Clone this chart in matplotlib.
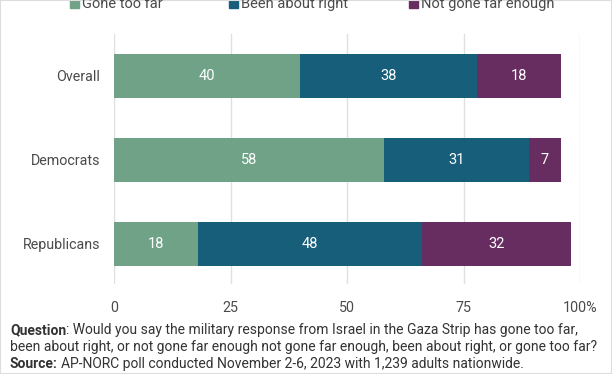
import matplotlib
matplotlib.use("Agg")
import matplotlib.pyplot as plt
from matplotlib.patches import Rectangle

plt.rcParams['font.family'] = ['Roboto', 'DejaVu Sans']

groups = ["Overall", "Democrats", "Republicans"]
series = ["Gone too far", "Been about right", "Not gone far enough"]
gone_too_far = [40, 58, 18]
about_right = [38, 31, 48]
not_far_enough = [18, 7, 32]
colors = ["#6fa287", "#175e7a", "#682d60"]
ticks = [0, 25, 50, 75, 100]
tick_labels = ["0", "25", "50", "75", "100%"]

fig = plt.figure(figsize=(6.12, 3.74), dpi=100)
W, H = 612, 374
ax = fig.add_axes([114 / W, 1 - 284 / H, (580 - 114) / W, (284 - 34) / H])

values = [gone_too_far, about_right, not_far_enough]
left = [0, 0, 0]
for vals, col, name in zip(values, colors, series):
    bars = ax.barh(groups, vals, left=left, height=0.524, color=col, label=name, zorder=3)
    for b, v in zip(bars, vals):
        ax.text(b.get_x() + b.get_width() / 2, b.get_y() + b.get_height() / 2, str(v),
                ha="center", va="center", color="white", fontsize=10.5, zorder=4)
    left = [l + v for l, v in zip(left, vals)]

ax.set_xlim(0, 100)
ax.set_ylim(2.48, -0.5)
ax.set_xticks(ticks)
ax.set_xticklabels(tick_labels)
ax.xaxis.grid(True, color="#e0e0e0", linewidth=1, zorder=0)
ax.tick_params(axis="both", length=0, labelsize=10.3, colors="#4a4a4a")
ax.tick_params(axis="x", pad=12)
ax.tick_params(axis="y", pad=10)
for s in ax.spines.values():
    s.set_visible(False)

# legend along the top
leg_x = [70, 229, 409]
for x, col, name in zip(leg_x, colors, series):
    fig.patches.append(Rectangle((x / W, 1 - 8 / H), 9 / W, 9 / H, transform=fig.transFigure,
                                 color=col))
    fig.text((x + 12) / W, 1 - 4 / H, name, fontsize=10.5, color="#4a4a4a", va="center")

# footnote
fs = 10
fig.canvas.draw()
r = fig.canvas.get_renderer()
t1 = fig.text(10 / W, 1 - 330 / H, "Question", fontweight="bold", fontsize=fs,
              color="#333333", va="center")
w1 = t1.get_window_extent(r).width
fig.text((10 + w1) / W, 1 - 330 / H,
         ": Would you say the military response from Israel in the Gaza Strip has gone too far,",
         fontsize=fs, color="#333333", va="center")
fig.text(10 / W, 1 - 347 / H,
         "been about right, or not gone far enough not gone far enough, been about right, or gone too far?",
         fontsize=fs, color="#333333", va="center")
t2 = fig.text(10 / W, 1 - 364 / H, "Source:", fontweight="bold", fontsize=fs,
              color="#333333", va="center")
w2 = t2.get_window_extent(r).width
fig.text((10 + w2 + 3) / W, 1 - 364 / H,
         "AP-NORC poll conducted November 2-6, 2023 with 1,239 adults nationwide.",
         fontsize=fs, color="#333333", va="center")

fig.patches.append(Rectangle((0, 0), 1, 1, transform=fig.transFigure, fill=False,
                             edgecolor="#dddddd", linewidth=1.5))

fig.savefig("out.png", dpi=100)
